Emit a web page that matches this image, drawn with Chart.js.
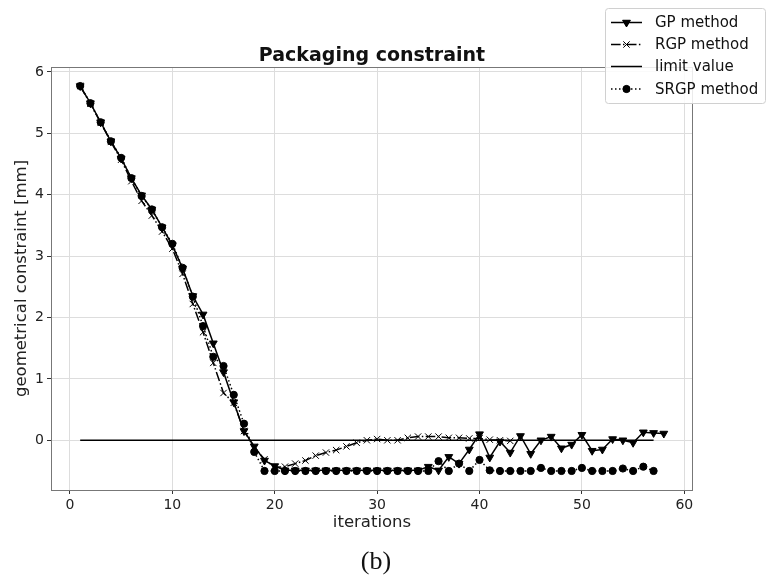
<!DOCTYPE html>
<html>
<head>
<meta charset="utf-8">
<script src="https://cdn.jsdelivr.net/npm/chart.js@4/dist/chart.umd.min.js"></script>
<style>
  html, body { margin: 0; padding: 0; background: #fff; }
  #wrap { width: 771px; height: 575px; }
</style>
</head>
<body>
<div id="wrap"><canvas id="c" width="771" height="575"></canvas></div>
<script>
// Constraint value per iteration (iteration number = position + 1)
const gpValues = [
  5.77, 5.49, 5.18, 4.87, 4.59, 4.27, 3.99, 3.76, 3.47, 3.18,
  2.80, 2.35, 2.05, 1.58, 1.11, 0.62, 0.15, -0.10, -0.33, -0.42,
  -0.49, -0.49, -0.49, -0.49, -0.49, -0.49, -0.49, -0.49, -0.49, -0.49,
  -0.49, -0.49, -0.49, -0.49, -0.43, -0.49, -0.27, -0.38, -0.15, 0.10,
  -0.28, -0.02, -0.20, 0.07, -0.22, 0.00, 0.06, -0.13, -0.07, 0.09,
  -0.17, -0.15, 0.02, 0.00, -0.04, 0.13, 0.12, 0.11
];
const rgpValues = [
  5.77, 5.48, 5.17, 4.86, 4.57, 4.22, 3.90, 3.66, 3.40, 3.12,
  2.71, 2.22, 1.76, 1.26, 0.77, 0.61, 0.15, -0.11, -0.31, -0.44,
  -0.43, -0.38, -0.33, -0.25, -0.20, -0.16, -0.10, -0.04, 0.00, 0.02,
  0.00, 0.00, 0.04, 0.06, 0.06, 0.06, 0.04, 0.04, 0.03, 0.03,
  0.01, 0.00, -0.01
];
const srgpValues = [
  5.77, 5.49, 5.18, 4.87, 4.60, 4.27, 3.98, 3.76, 3.47, 3.20,
  2.81, 2.34, 1.86, 1.36, 1.21, 0.74, 0.27, -0.19, -0.50, -0.50,
  -0.50, -0.50, -0.50, -0.50, -0.50, -0.50, -0.50, -0.50, -0.50, -0.50,
  -0.50, -0.50, -0.50, -0.50, -0.50, -0.34, -0.50, -0.38, -0.50, -0.32,
  -0.49, -0.50, -0.50, -0.50, -0.50, -0.45, -0.50, -0.50, -0.50, -0.45,
  -0.50, -0.50, -0.50, -0.46, -0.50, -0.43, -0.50
];
// Limit value line: start and end iteration, constant value
const limitIter = [1, 57];
const limitValues = [0, 0];

const xTickValues = [0, 10, 20, 30, 40, 50, 60];
const yTickValues = [0, 1, 2, 3, 4, 5, 6];

const titleText = 'Packaging constraint';
const xLabel = 'iterations';
const yLabel = 'geometrical constraint [mm]';
const captionText = '(b)';
const seriesNames = ['GP method', 'RGP method', 'limit value', 'SRGP method'];

const toPoints = vals => vals.map((v, i) => ({ x: i + 1, y: v }));

const DASHDOT = [9.6, 2.4, 1.5, 2.4];
const DOTTED = [1.5, 2.5];

const datasets = [
  {
    label: seriesNames[0], data: toPoints(gpValues),
    borderColor: '#000', backgroundColor: '#000', borderWidth: 1.5,
    pointStyle: 'triangle', rotation: 180, pointRadius: 4.5, pointBorderWidth: 1,
    order: 4
  },
  {
    label: seriesNames[1], data: toPoints(rgpValues),
    borderColor: '#000', backgroundColor: '#000', borderWidth: 1.5, borderDash: DASHDOT,
    pointStyle: 'crossRot', pointRadius: 4.5, pointBorderWidth: 1,
    order: 3
  },
  {
    label: seriesNames[2], data: limitIter.map((x, i) => ({ x, y: limitValues[i] })),
    borderColor: '#000', borderWidth: 1.5, pointRadius: 0,
    order: 2
  },
  {
    label: seriesNames[3], data: toPoints(srgpValues),
    borderColor: '#000', backgroundColor: '#000', borderWidth: 1.5, borderDash: DOTTED,
    pointStyle: 'circle', pointRadius: 3.6, pointBorderWidth: 1,
    order: 1
  }
];
datasets.forEach(d => { d.fill = false; d.tension = 0; d.borderCapStyle = 'butt'; d.pointHoverRadius = d.pointRadius; });

function drawMarker(ctx, style, x, y) {
  ctx.save();
  ctx.fillStyle = '#000'; ctx.strokeStyle = '#000'; ctx.lineWidth = 1; ctx.setLineDash([]);
  if (style === 'triangle') {
    Chart.helpers.drawPoint(ctx, { pointStyle: 'triangle', rotation: 180, radius: 4.5, borderWidth: 1 }, x, y);
    ctx.fill(); 
  } else if (style === 'crossRot') {
    Chart.helpers.drawPoint(ctx, { pointStyle: 'crossRot', rotation: 0, radius: 4.5, borderWidth: 1 }, x, y);
  } else if (style === 'circle') {
    Chart.helpers.drawPoint(ctx, { pointStyle: 'circle', rotation: 0, radius: 3.6, borderWidth: 1 }, x, y);
    ctx.fill();
  }
  ctx.restore();
}

const decorations = {
  id: 'decorations',
  beforeDraw(chart) {
    const ctx = chart.ctx;
    ctx.save();
    ctx.fillStyle = '#fff';
    ctx.fillRect(0, 0, chart.width, chart.height);
    ctx.restore();
  },
  afterDatasetsDraw(chart) {
    const { ctx, chartArea: a } = chart;
    ctx.save();
    ctx.strokeStyle = '#777';
    ctx.lineWidth = 1;
    ctx.strokeRect(Math.round(a.left) + 0.5, Math.round(a.top) + 0.5,
      Math.round(a.right - a.left) - 1, Math.round(a.bottom - a.top));
    ctx.restore();
  },
  afterDraw(chart) {
    const { ctx, chartArea: a } = chart;
    const cx = (a.left + a.right) / 2;
    ctx.save();
    // title
    ctx.fillStyle = '#111';
    ctx.font = 'bold 19px "DejaVu Sans"';
    ctx.textAlign = 'center';
    ctx.textBaseline = 'alphabetic';
    ctx.fillText(titleText, cx, 61);
    // caption
    ctx.font = '26px "Liberation Serif"';
    ctx.fillText(captionText, cx + 4, 569);

    // legend
    const bx = 605.5, by = 8.5, bw = 160, bh = 95;
    ctx.beginPath();
    ctx.roundRect(bx, by, bw, bh, 3);
    ctx.fillStyle = 'rgba(255,255,255,0.85)';
    ctx.fill();
    ctx.strokeStyle = '#d0d0d0';
    ctx.lineWidth = 1;
    ctx.stroke();
    const rows = [22.5, 44.5, 66.5, 89];
    const styles = ['triangle', 'crossRot', null, 'circle'];
    const dashes = [[], DASHDOT, [], DOTTED];
    ctx.font = '15px "DejaVu Sans"';
    ctx.textAlign = 'left';
    ctx.textBaseline = 'middle';
    rows.forEach((ry, i) => {
      ctx.save();
      ctx.strokeStyle = '#000';
      ctx.lineWidth = 1.5;
      ctx.setLineDash(dashes[i]);
      ctx.beginPath();
      ctx.moveTo(611, ry);
      ctx.lineTo(642, ry);
      ctx.stroke();
      ctx.restore();
      if (styles[i]) drawMarker(ctx, styles[i], 626.5, ry);
      ctx.fillStyle = '#111';
      ctx.fillText(seriesNames[i], 655, ry + 1);
    });
    ctx.restore();
  }
};

new Chart(document.getElementById('c'), {
  type: 'line',
  data: { datasets },
  options: {
    responsive: false,
    animation: false,
    layout: { padding: { left: 0, top: 67, right: 78, bottom: 42 } },
    plugins: {
      legend: { display: false },
      title: { display: false },
      tooltip: { enabled: false }
    },
    elements: { line: { borderJoinStyle: 'miter' } },
    scales: {
      x: {
        type: 'linear',
        min: -1.85, max: 60.85,
        afterBuildTicks: s => { s.ticks = xTickValues.map(v => ({ value: v })); },
        afterFit: s => { s.height = 43; },
        grid: { color: '#dddddd', lineWidth: 1, drawTicks: true, tickLength: 4, tickColor: '#333', tickWidth: 1 },
        border: { display: false },
        ticks: { color: '#222', font: { family: 'DejaVu Sans', size: 14 }, padding: 3, maxRotation: 0 },
        title: { display: true, text: xLabel, color: '#222', font: { family: 'DejaVu Sans', size: 16.5 }, padding: { top: 0, bottom: 0 } }
      },
      y: {
        type: 'linear',
        min: -0.81, max: 6.08,
        afterBuildTicks: s => { s.ticks = yTickValues.map(v => ({ value: v })); },
        afterFit: s => { s.width = 51; },
        grid: { color: '#dddddd', lineWidth: 1, drawTicks: true, tickLength: 4, tickColor: '#333', tickWidth: 1 },
        border: { display: false },
        ticks: { color: '#222', font: { family: 'DejaVu Sans', size: 14 }, padding: 3 },
        title: { display: true, text: yLabel, color: '#222', font: { family: 'DejaVu Sans', size: 16.5 }, padding: { top: 12, bottom: 0 } }
      }
    }
  },
  plugins: [decorations]
});
</script>
</body>
</html>
